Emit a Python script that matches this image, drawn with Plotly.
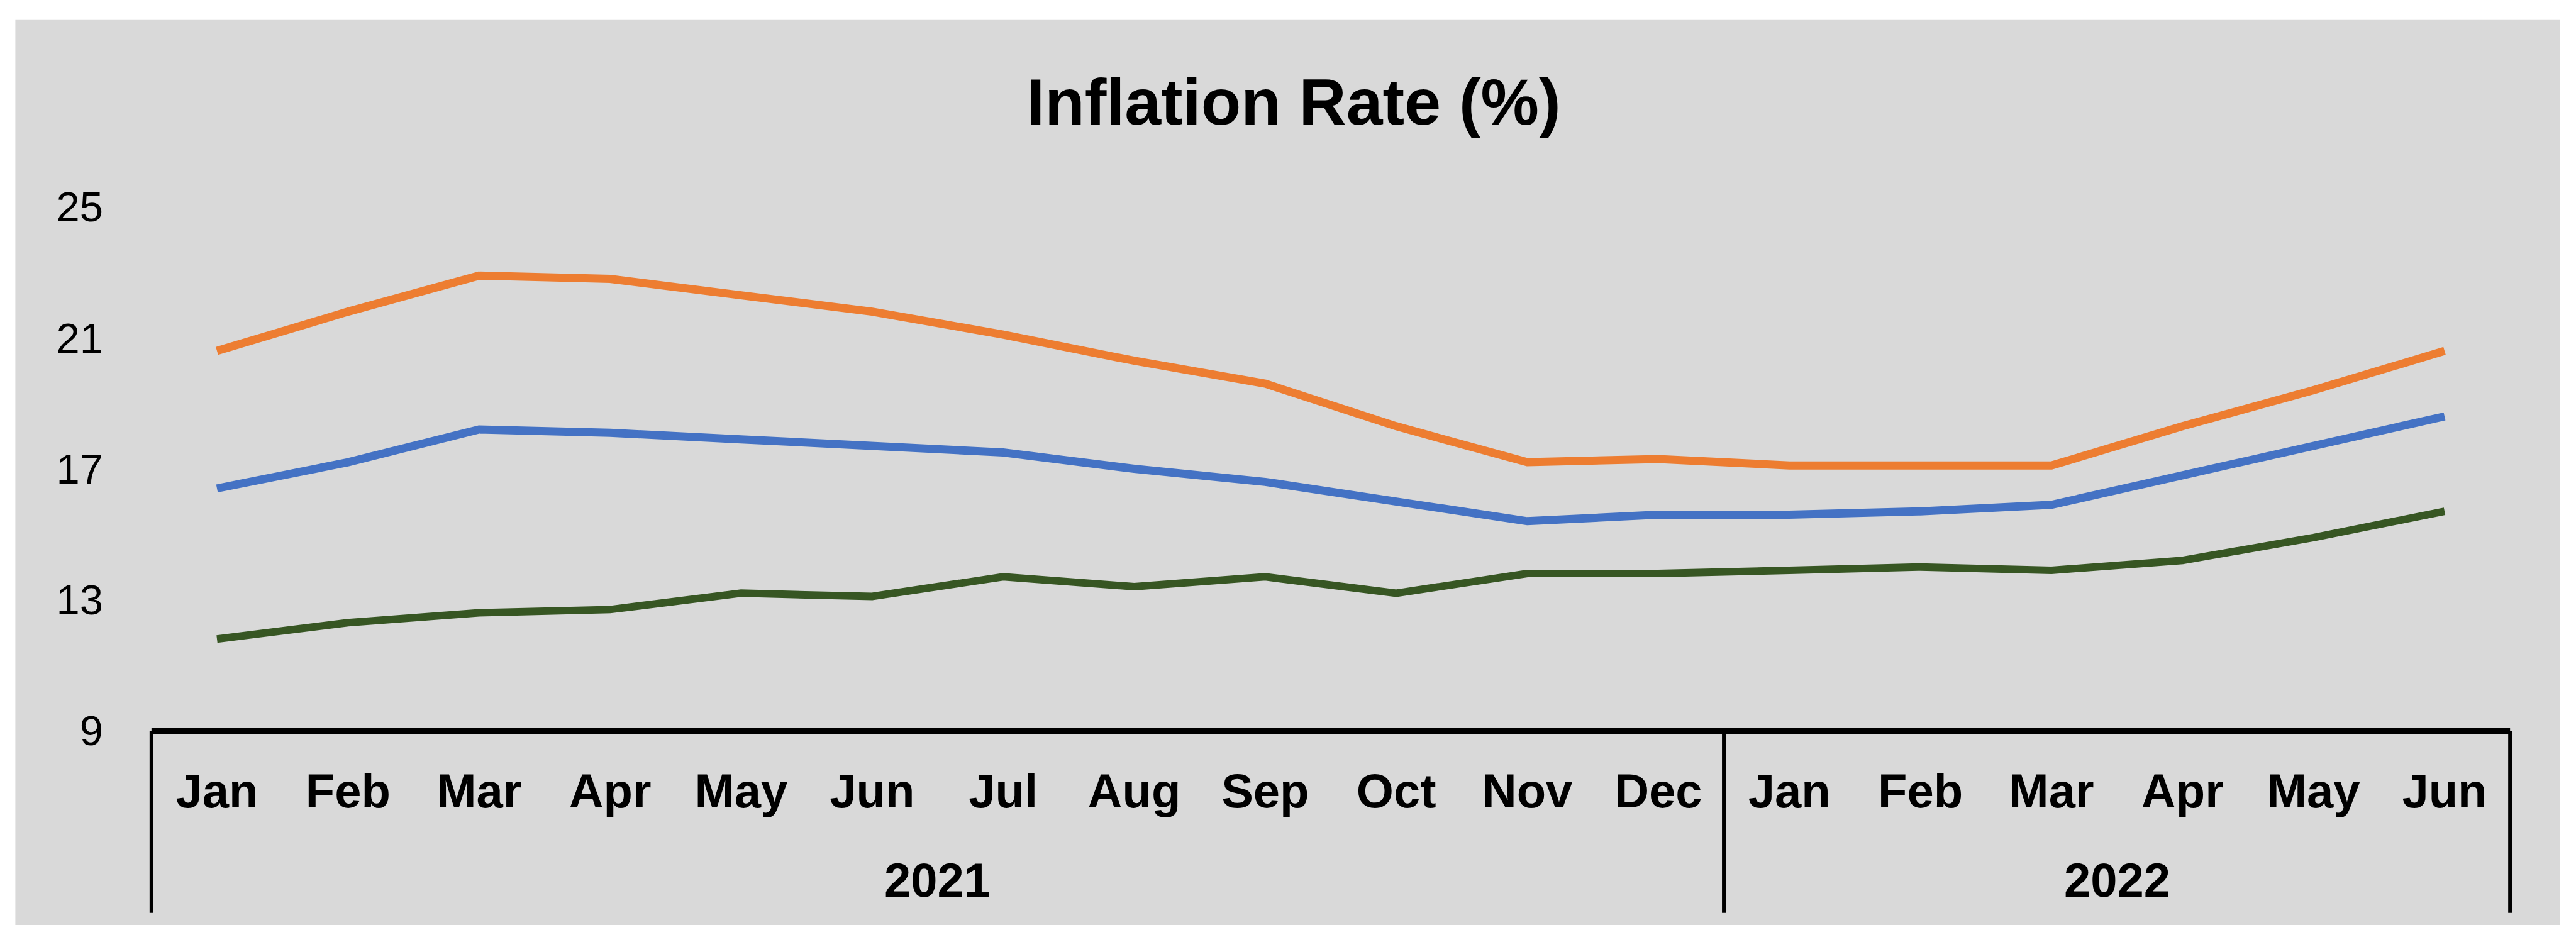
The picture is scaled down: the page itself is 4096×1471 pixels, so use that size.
import plotly.graph_objects as go

# ---- data ----
months = ["Jan", "Feb", "Mar", "Apr", "May", "Jun", "Jul", "Aug", "Sep", "Oct", "Nov", "Dec",
          "Jan", "Feb", "Mar", "Apr", "May", "Jun"]
years = ["2021", "2022"]
months_per_year = [12, 6]

rate_orange = [20.6, 21.8, 22.9, 22.8, 22.3, 21.8, 21.1, 20.3, 19.6, 18.3, 17.2, 17.3,
               17.1, 17.1, 17.1, 18.3, 19.4, 20.6]
rate_blue = [16.4, 17.2, 18.2, 18.1, 17.9, 17.7, 17.5, 17.0, 16.6, 16.0, 15.4, 15.6,
             15.6, 15.7, 15.9, 16.8, 17.7, 18.6]
rate_green = [11.8, 12.3, 12.6, 12.7, 13.2, 13.1, 13.7, 13.4, 13.7, 13.2, 13.8, 13.8,
              13.9, 14.0, 13.9, 14.2, 14.9, 15.7]

y_ticks = [9, 13, 17, 21, 25]

# ---- geometry (pixels) ----
W, H = 4096, 1471
Y_MIN, Y_MAX = 9, 25.5
X_LO, X_HI = -0.6, len(months) - 0.4
cat_w = 208.33
left = 241 - 0.1 * cat_w
plot_w = (X_HI - X_LO) * cat_w
right = W - left - plot_w
axis_y = 1162.2
unit_h = 52.1
top = axis_y - (Y_MAX - Y_MIN) * unit_h
bottom = H - axis_y
plot_h = axis_y - top

def paper_x(px):
    return (px - left) / plot_w

def paper_y(py):
    return (axis_y - py) / plot_h

FONT = "Liberation Sans, Arial, sans-serif"
BG = "#D9D9D9"

x = list(range(len(months)))

fig = go.Figure()
for vals, color, name, width in [
    (rate_orange, "#ED7D31", "Series A", 13),
    (rate_blue, "#4472C4", "Series B", 13),
    (rate_green, "#375623", "Series C", 12),
]:
    fig.add_trace(go.Scatter(x=x, y=vals, mode="lines", name=name,
                             line=dict(color=color, width=width),
                             showlegend=False, hoverinfo="skip"))

shapes = []
# chart background panel
shapes.append(dict(type="rect", xref="paper", yref="paper", layer="below",
                   x0=paper_x(24.6), x1=paper_x(4070), y0=paper_y(H + 5), y1=paper_y(31),
                   fillcolor=BG, line=dict(width=0)))
# horizontal category axis line
shapes.append(dict(type="line", xref="x", yref="paper", x0=-0.5, x1=len(months) - 0.5,
                   y0=0, y1=0, line=dict(color="black", width=10)))
# group dividers
div_bottom = paper_y(axis_y + 290)
edges = [-0.5]
for n in months_per_year:
    edges.append(edges[-1] + n)
for e in edges:
    shapes.append(dict(type="line", xref="x", yref="paper", x0=e, x1=e,
                       y0=0, y1=div_bottom, line=dict(color="black", width=6)))

annotations = []
start = -0.5
for yr, n in zip(years, months_per_year):
    annotations.append(dict(text=yr, xref="x", yref="paper", x=start + n / 2, y=0,
                            yshift=-237, showarrow=False, yanchor="middle",
                            font=dict(family=FONT, size=76, color="black", weight="bold")))
    start += n

fig.update_layout(
    width=W, height=H,
    margin=dict(l=left, r=right, t=top, b=bottom, pad=0),
    paper_bgcolor="white",
    plot_bgcolor=BG,
    title=dict(text="Inflation Rate (%)", xref="container", yref="container",
               x=2057 / W, y=1 - 162 / H, xanchor="center", yanchor="middle",
               font=dict(family=FONT, size=104, color="black", weight="bold")),
    xaxis=dict(range=[X_LO, X_HI], tickmode="array", tickvals=x, ticktext=months,
               showgrid=False, zeroline=False, showline=False, ticks="",
               ticklabelstandoff=45,
               tickfont=dict(family=FONT, size=76, color="black", weight="bold")),
    yaxis=dict(range=[Y_MIN, Y_MAX], tickmode="array", tickvals=y_ticks,
               showgrid=False, zeroline=False, showline=False, ticks="",
               ticklabelstandoff=55,
               tickfont=dict(family=FONT, size=67, color="black")),
    shapes=shapes,
    annotations=annotations,
)

fig.write_html("out.html")
